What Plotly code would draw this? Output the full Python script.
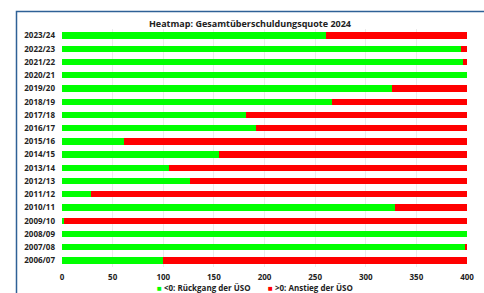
import plotly.graph_objects as go

years = ["2006/07", "2007/08", "2008/09", "2009/10", "2010/11", "2011/12", "2012/13",
         "2013/14", "2014/15", "2015/16", "2016/17", "2017/18", "2018/19", "2019/20",
         "2020/21", "2021/22", "2022/23", "2023/24"]
decline = [100, 398, 400, 2, 329, 29, 126, 106, 155, 61, 192, 182, 267, 326, 400, 396, 394, 261]
increase = [300, 2, 0, 398, 71, 371, 274, 294, 245, 339, 208, 218, 133, 74, 0, 4, 6, 139]
x_ticks = [0, 50, 100, 150, 200, 250, 300, 350, 400]
series_names = ["&lt;0: Rückgang der ÜSO", "&gt;0: Anstieg der ÜSO"]
series_colors = ["#00ff00", "#ff0000"]

FONT = "Open Sans"
PLOT_BOTTOM = 267
PLOT_H = 293 - 29 - 26
PLOT_W = 484 - 62 - 17

fig = go.Figure()
for vals, name, col in zip([decline, increase], series_names, series_colors):
    fig.add_trace(go.Bar(y=years, x=vals, orientation="h", name=name,
                         marker=dict(color=col, line=dict(width=0)), showlegend=False))

fig.update_layout(
    width=484, height=293,
    barmode="stack", bargap=0.52,
    paper_bgcolor="white", plot_bgcolor="white",
    margin=dict(l=62, r=17, t=29, b=26, autoexpand=False),
    font=dict(family=FONT, size=8, color="#222222"),
    title=dict(text="<b>Heatmap: Gesamtüberschuldungsquote 2024</b>",
               x=250 / 484, xanchor="center", y=1 - 24 / 293, yanchor="middle",
               font=dict(size=9, family=FONT, color="#222222")),
    xaxis=dict(range=[0, 400], tickvals=x_ticks, showgrid=True, gridcolor="#ebebeb",
               gridwidth=1, zeroline=False, showline=False,
               tickfont=dict(size=8, family=FONT, weight="bold", color="#222222"),
               ticklabelstandoff=4),
    yaxis=dict(categoryorder="array", categoryarray=years, showgrid=False,
               tickfont=dict(size=8, family=FONT, weight="bold", color="#222222"),
               ticklabelstandoff=6),
    showlegend=False,
)

# legend drawn as compact annotations (small square + label)
legend_x = [(155 - 62) / PLOT_W, (266 - 62) / PLOT_W]
for lx, name, col in zip(legend_x, series_names, series_colors):
    fig.add_annotation(xref="paper", yref="paper", x=lx, y=-(287.5 - PLOT_BOTTOM) / PLOT_H,
                       xanchor="left", yanchor="middle", showarrow=False,
                       text=f'<span style="color:{col}">■</span> <b>{name}</b>',
                       font=dict(size=8, family=FONT, color="#222222"))

# outer frame (blue border of the source panel)
fig.add_shape(type="rect", xref="paper", yref="paper",
              x0=(16.5 - 62) / PLOT_W, x1=1.08, y0=-0.3, y1=(PLOT_BOTTOM - 11.5) / PLOT_H,
              line=dict(color="#2e6196", width=1.5), fillcolor="rgba(0,0,0,0)", layer="below")

fig.write_html("out.html", config={"displayModeBar": False},
               post_script="document.body.style.margin='0';")
